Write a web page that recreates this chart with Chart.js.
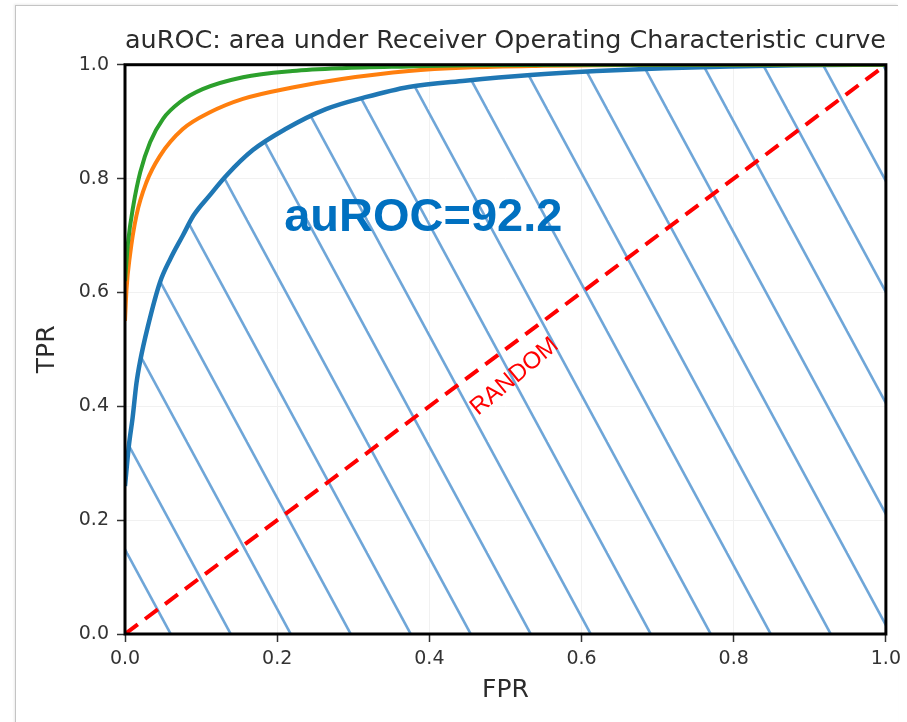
<!DOCTYPE html>
<html>
<head>
<meta charset="utf-8">
<script src="https://cdn.jsdelivr.net/npm/chart.js@4.4.1/dist/chart.umd.min.js"></script>
<style>
  html, body { margin: 0; padding: 0; background: #fff; }
  #frame {
    position: absolute; left: 15px; top: 5px; width: 882px; height: 730px;
    border-left: 1px solid #c4c4c4; border-top: 1px solid #c4c4c4;
    box-shadow: -1px -1px 2px rgba(0,0,0,0.08);
  }
  #wrap { position: absolute; left: 0; top: 0; width: 907px; height: 722px; }
</style>
</head>
<body>
<div id="frame"></div>
<div id="wrap"><canvas id="roc" width="907" height="722"></canvas></div>
<script>
// ROC curves
var blueFpr   = [0, 0.005, 0.01, 0.015, 0.02, 0.03, 0.046, 0.06, 0.076, 0.09, 0.111, 0.133, 0.168, 0.211, 0.264, 0.316, 0.373, 0.447, 0.533, 0.62, 0.708, 0.795, 0.88, 1.0];
var blueTpr   = [0.26, 0.33, 0.38, 0.44, 0.48, 0.54, 0.618, 0.66, 0.70, 0.735, 0.77, 0.805, 0.85, 0.887, 0.922, 0.943, 0.961, 0.972, 0.982, 0.989, 0.994, 0.997, 0.999, 1.0];
var orangeFpr = [0, 0.002, 0.0065, 0.015, 0.028, 0.046, 0.076, 0.111, 0.155, 0.22, 0.285, 0.373, 0.45, 0.55, 0.7, 1.0];
var orangeTpr = [0.55, 0.606, 0.665, 0.735, 0.793, 0.84, 0.887, 0.916, 0.94, 0.96, 0.975, 0.989, 0.995, 0.998, 1.0, 1.0];
var greenFpr  = [0, 0.004, 0.011, 0.02, 0.033, 0.05, 0.072, 0.102, 0.155, 0.22, 0.285, 0.373, 0.45, 0.6, 1.0];
var greenTpr  = [0.62, 0.688, 0.753, 0.811, 0.864, 0.905, 0.934, 0.957, 0.978, 0.989, 0.994, 0.997, 0.999, 1.0, 1.0];
var randomFpr = [0, 1];
var randomTpr = [0, 1];
var tickValues = [0, 0.2, 0.4, 0.6, 0.8, 1.0];

function toPoints(xs, ys){
  return xs.map(function(x, i){ return {x: x, y: ys[i]}; });
}

// diagonal hatch for the area under the blue curve
function makeHatch(){
  var w = 60, h = 111;
  var c = document.createElement('canvas');
  c.width = w; c.height = h;
  var g = c.getContext('2d');
  g.strokeStyle = '#6fa6d8';
  g.lineWidth = 2.6;
  for (var k = -1; k <= 1; k++) {
    g.beginPath();
    g.moveTo(k * w - w, -h);
    g.lineTo(k * w + 2 * w, 2 * h);
    g.stroke();
  }
  var p = g.createPattern(c, 'repeat');
  p.setTransform(new DOMMatrix([1, 0, 0, 1, 8, 0]));
  return p;
}

// black frame on top of the curves, plus the two text notes
Chart.register({
  id: 'notes',
  afterDatasetsDraw: function(chart){
    var ctx = chart.ctx, a = chart.chartArea;
    var xs = chart.scales.x, ys = chart.scales.y;
    ctx.save();
    ctx.fillStyle = '#0070c0';
    ctx.font = 'bold 47px "Liberation Sans", Arial, sans-serif';
    ctx.textAlign = 'center';
    ctx.textBaseline = 'middle';
    ctx.fillText('auROC=92.2', xs.getPixelForValue(0.392), ys.getPixelForValue(0.73));

    ctx.translate(xs.getPixelForValue(0.512), ys.getPixelForValue(0.452));
    ctx.rotate(-40 * Math.PI / 180);
    ctx.fillStyle = '#ff0000';
    ctx.font = '24px "Liberation Sans", Arial, sans-serif';
    ctx.fillText('RANDOM', 0, 0);
    ctx.restore();

    ctx.save();
    ctx.strokeStyle = '#000';
    ctx.lineWidth = 3;
    ctx.strokeRect(a.left, a.top, a.right - a.left, a.bottom - a.top);
    ctx.restore();
  }
});

var tickFont = {family: 'DejaVu Sans', size: 19};

new Chart(document.getElementById('roc'), {
  type: 'line',
  data: {
    datasets: [
      {
        data: toPoints(randomFpr, randomTpr),
        borderColor: '#ff0000',
        borderWidth: 4,
        borderDash: [16, 9],
        pointRadius: 0,
        fill: false
      },
      {
        data: toPoints(greenFpr, greenTpr),
        borderColor: '#2ca02c',
        borderWidth: 4,
        pointRadius: 0,
        cubicInterpolationMode: 'monotone',
        fill: false
      },
      {
        data: toPoints(orangeFpr, orangeTpr),
        borderColor: '#ff7f0e',
        borderWidth: 4,
        pointRadius: 0,
        cubicInterpolationMode: 'monotone',
        fill: false
      },
      {
        data: toPoints(blueFpr, blueTpr),
        borderColor: '#1f77b4',
        borderWidth: 4.5,
        pointRadius: 0,
        cubicInterpolationMode: 'monotone',
        fill: 'origin',
        backgroundColor: makeHatch()
      }
    ]
  },
  options: {
    responsive: false,
    animation: false,
    layout: {padding: {left: 0, right: 17, top: 1, bottom: 0}},
    plugins: {
      legend: {display: false},
      tooltip: {enabled: false},
      title: {
        display: true,
        fullSize: false,
        text: 'auROC: area under Receiver Operating Characteristic curve',
        color: '#2b2b2b',
        font: {family: 'DejaVu Sans', size: 25.6, weight: 'normal', lineHeight: 1.2},
        padding: {top: 25, bottom: 8}
      }
    },
    scales: {
      x: {
        type: 'linear',
        min: 0, max: 1,
        afterBuildTicks: function(s){ s.ticks = tickValues.map(function(v){ return {value: v}; }); },
        afterFit: function(s){ s.height = 88; },
        border: {display: false},
        grid: {color: '#f1f1f1', tickColor: '#333', tickLength: 8, tickWidth: 1.5},
        ticks: {color: '#333', font: tickFont, padding: 6, maxRotation: 0,
                callback: function(v){ return v.toFixed(1); }},
        title: {display: true, text: 'FPR', color: '#2b2b2b',
                font: {family: 'DejaVu Sans', size: 25}, padding: {top: 0, bottom: 17}}
      },
      y: {
        type: 'linear',
        min: 0, max: 1,
        afterBuildTicks: function(s){ s.ticks = tickValues.map(function(v){ return {value: v}; }); },
        afterFit: function(s){ s.width = 125; },
        border: {display: false},
        grid: {color: '#f1f1f1', tickColor: '#333', tickLength: 8, tickWidth: 1.5},
        ticks: {color: '#333', font: tickFont, padding: 8,
                callback: function(v){ return v.toFixed(1); }},
        title: {display: true, text: 'TPR', color: '#2b2b2b',
                font: {family: 'DejaVu Sans', size: 25}, padding: {top: 32, bottom: 0}}
      }
    }
  }
});
</script>
</body>
</html>
